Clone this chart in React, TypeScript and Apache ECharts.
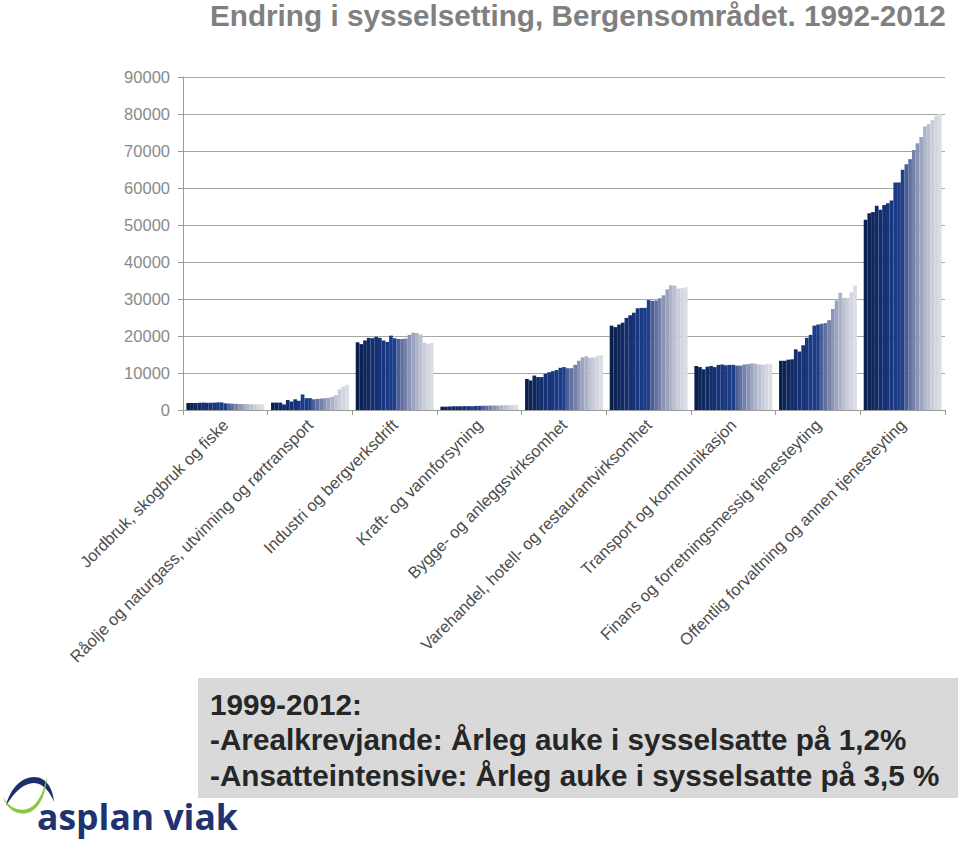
import React, { useEffect, useRef } from "react";
import * as echarts from "echarts";

const categories = [
  "Jordbruk, skogbruk og fiske",
  "Råolje og naturgass, utvinning og rørtransport",
  "Industri og bergverksdrift",
  "Kraft- og vannforsyning",
  "Bygge- og anleggsvirksomhet",
  "Varehandel, hotell- og restaurantvirksomhet",
  "Transport og kommunikasjon",
  "Finans og forretningsmessig tjenesteyting",
  "Offentlig forvaltning og annen tjenesteyting",
];

const years = [
  "1992", "1993", "1994", "1995", "1996", "1997", "1998", "1999", "2000", "2001", "2002",
  "2003", "2004", "2005", "2006", "2007", "2008", "2009", "2010", "2011", "2012",
];

const jordbruk = [1900, 1900, 1900, 1950, 2000, 1950, 1950, 2000, 2050, 2050, 1800, 1750, 1700, 1650, 1600, 1600, 1600, 1550, 1550, 1550, 1550];
const raolje = [2000, 2000, 2000, 1500, 2700, 2300, 2900, 2500, 4200, 3200, 3200, 2900, 3000, 3100, 3200, 3300, 3600, 4000, 5600, 6300, 6800];
const industri = [18300, 17800, 18800, 19500, 19400, 19800, 19500, 18800, 18400, 20100, 19400, 19200, 19200, 19300, 20300, 20900, 20800, 20400, 18200, 17900, 18200];
const kraft = [900, 900, 950, 1000, 1000, 1000, 1050, 1050, 1000, 1100, 1100, 1150, 1150, 1200, 1200, 1200, 1250, 1300, 1300, 1300, 1350];
const bygge = [8400, 8000, 9300, 8900, 8900, 9800, 10200, 10500, 10800, 11400, 11600, 11300, 11300, 12200, 13300, 14200, 14500, 14100, 14200, 14600, 14800];
const varehandel = [22800, 22400, 23100, 23600, 24900, 25600, 26300, 27500, 27600, 27600, 29700, 29500, 29600, 30200, 31000, 32600, 33700, 33600, 32800, 32900, 33200];
const transport = [11900, 11600, 11000, 11700, 11900, 11600, 12200, 12300, 12100, 12200, 12200, 12000, 12000, 12300, 12400, 12600, 12500, 12300, 12200, 12400, 12400];
const finans = [13300, 13300, 13600, 13700, 16400, 15800, 17500, 19500, 20300, 22800, 23100, 23300, 23500, 24300, 27300, 29600, 31700, 30300, 30300, 31800, 33600];
const offentlig = [51400, 53200, 53500, 55200, 54100, 55400, 55900, 56600, 61500, 61500, 64900, 66400, 67800, 70300, 72100, 73800, 76600, 77300, 78400, 79500, 80000];

const groups = [jordbruk, raolje, industri, kraft, bygge, varehandel, transport, finans, offentlig];

const yTicks = [0, 10000, 20000, 30000, 40000, 50000, 60000, 70000, 80000, 90000];

const barColors = [
  "#0b1f4f", "#0d2356", "#0f275d", "#112a64", "#132e6b", "#153172", "#173478",
  "#18377e", "#1a3a84", "#1c3c88", "#1e3f8b", "#4b5e96", "#6170a0", "#7682aa",
  "#8a94b5", "#9ca4bf", "#adb3c9", "#bcc1d2", "#c9cdda", "#d3d6e0", "#dbdde5",
];

const title = "Endring i sysselsetting, Bergensområdet. 1992-2012";
const noteLines = [
  "1999-2012:",
  "-Arealkrevjande: Årleg auke i sysselsatte på 1,2%",
  "-Ansatteintensive: Årleg auke i sysselsatte på 3,5 %",
];

echarts.graphic.registerShape(
  "logoBlue",
  echarts.graphic.extendPath("M6,806 C10,788 22,777 34,777 C46,777 53,788 54,802 C50,792 43,783 34,783 C24,783 14,792 6,806 Z", {})
);
echarts.graphic.registerShape(
  "logoGreen",
  echarts.graphic.extendPath("M3,797 C10,810 24,813 33,806 C40,800 44,790 47,776 C46,793 41,805 32,811 C20,818 7,810 3,797 Z", {})
);

export default function App() {
  const ref = useRef<HTMLDivElement>(null);
  useEffect(() => {
    if (!ref.current) return;
    const chart = echarts.init(ref.current, null, { renderer: "svg" });
    const series = years.map((yr, i) => ({
      type: "bar" as const,
      name: yr,
      data: groups.map((g) => g[i]),
      itemStyle: { color: barColors[i] },
      barGap: "0%",
      barCategoryGap: "8%",
    }));
    chart.setOption({
      animation: false,
      backgroundColor: "#ffffff",
      grid: { left: 183, right: 15, top: 77, bottom: 439 },
      xAxis: {
        type: "category",
        data: categories,
        axisLine: { show: true, lineStyle: { color: "#9a9a9a", width: 1 } },
        axisTick: { show: true, length: 5, lineStyle: { color: "#9a9a9a" } },
        axisLabel: {
          interval: 0,
          rotate: 45,
          margin: 12,
          fontSize: 16.5,
          color: "#4d4d4d",
          fontFamily: "Liberation Sans, Arial, sans-serif",
        },
      },
      yAxis: {
        type: "value",
        min: yTicks[0],
        max: yTicks[yTicks.length - 1],
        interval: 10000,
        axisLine: { show: true, lineStyle: { color: "#9a9a9a" } },
        axisTick: { show: true, length: 5, lineStyle: { color: "#9a9a9a" } },
        axisLabel: {
          margin: 13,
          fontSize: 16.5,
          color: "#8a8a8a",
          fontFamily: "Liberation Sans, Arial, sans-serif",
          formatter: (v: number) => String(v),
        },
        splitLine: { show: true, lineStyle: { color: "#a6a6a6", width: 1 } },
      },
      series,
      graphic: [
        {
          type: "text",
          x: 210,
          y: 15,
          style: {
            text: title,
            font: "bold 29.7px 'Liberation Sans', Arial, sans-serif",
            fill: "#808080",
            verticalAlign: "middle",
            align: "left",
          },
        },
        {
          type: "rect",
          shape: { x: 198, y: 678, width: 760, height: 120 },
          style: { fill: "#d9d9d9" },
        },
        ...noteLines.map((t, i) => ({
          type: "text",
          x: 210,
          y: 704 + i * 35.5,
          style: {
            text: t,
            font: "bold 29.7px 'Liberation Sans', Arial, sans-serif",
            fill: "#262626",
            verticalAlign: "middle",
            align: "left",
          },
        })),
        { type: "logoBlue", style: { fill: "#1b2f6b" } },
        { type: "logoGreen", style: { fill: "#8cc63f" } },
        {
          type: "text",
          x: 37,
          y: 816,
          style: {
            text: "asplan viak",
            font: "bold 35.5px 'Open Sans', 'Noto Sans', sans-serif",
            fill: "#1e3370",
            verticalAlign: "middle",
            align: "left",
          },
        },
      ],
    });
    return () => chart.dispose();
  }, []);
  return (
    <div
      ref={ref}
      style={{ position: "absolute", left: 0, top: 0, width: 960, height: 849 }}
    />
  );
}
